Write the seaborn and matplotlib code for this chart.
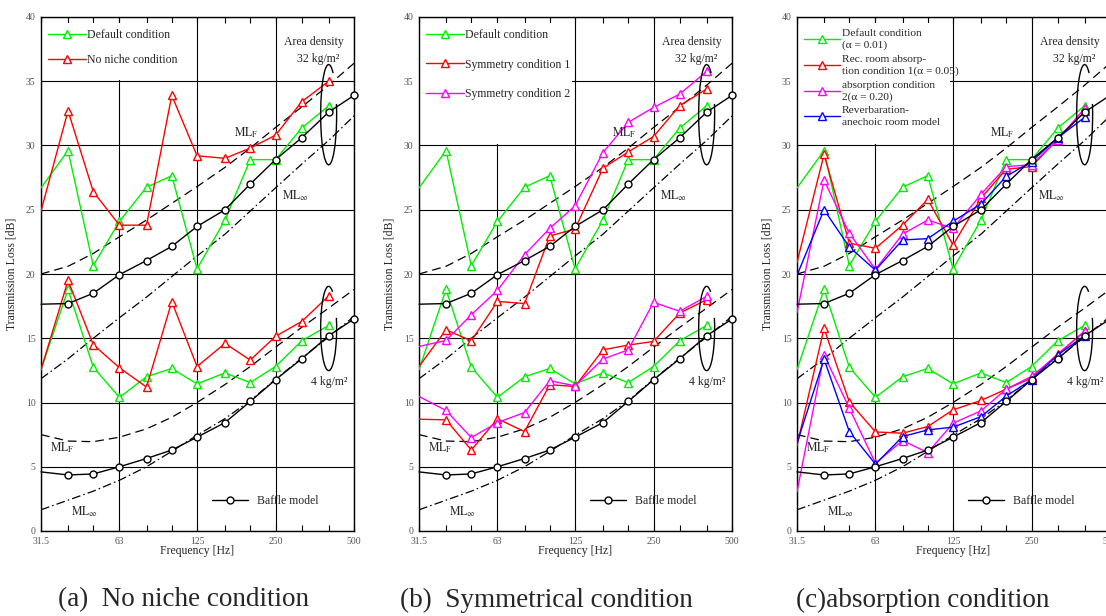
import seaborn as sns
import matplotlib.pyplot as plt
from matplotlib.lines import Line2D
from matplotlib.patches import Arc, Rectangle

# --- Data (1/3 octave bands, dB) ---
freq = [31.5, 40, 50, 63, 80, 100, 125, 160, 200, 250, 315, 400]
freq_full = [31.5, 40, 50, 63, 80, 100, 125, 160, 200, 250, 315, 400, 500]
tick_freq = [31.5, 63, 125, 250, 500]
tick_labels = ["31.5", "63", "125", "250", "500"]
minor_freq = [40, 50, 80, 100, 160, 200, 315, 400]

default_32 = [26.7, 29.6, 20.65, 24.1, 26.75, 27.65, 20.4, 24.2, 28.9, 28.9, 31.35, 33.1]
default_4 = [12.55, 18.8, 12.75, 10.4, 12.0, 12.65, 11.45, 12.3, 11.55, 12.8, 14.8, 16.0]
noniche_32 = [24.9, 32.7, 26.4, 23.8, 23.8, 33.9, 29.2, 29.0, 29.8, 30.8, 33.4, 35.0]
noniche_4 = [12.55, 19.5, 14.5, 12.7, 11.2, 17.85, 12.8, 14.6, 13.3, 15.15, 16.3, 18.3]
sym1_32 = [12.8, 15.66, 14.8, 17.87, 17.7, 22.96, 23.5, 28.23, 29.5, 30.7, 33.1, 34.4]
sym1_4 = [8.7, 8.65, 6.3, 8.73, 7.74, 11.38, 11.25, 14.1, 14.47, 14.75, 16.96, 18.0]
sym2_32 = [14.36, 14.83, 16.83, 18.73, 21.5, 23.56, 25.3, 29.45, 31.8, 32.96, 34.0, 35.77]
sym2_4 = [10.47, 9.38, 7.27, 8.44, 9.22, 11.69, 11.3, 13.38, 14.1, 17.8, 17.1, 18.26]
abs1_32 = [20.9, 29.3, 22.4, 22.0, 23.8, 25.8, 22.26, 25.9, 28.15, 28.36, 30.5, 32.65]
abs1_4 = [6.65, 15.77, 10.05, 7.71, 7.61, 8.13, 9.43, 10.16, 11.04, 11.9, 13.77, 15.53]
abs2_32 = [17.0, 27.3, 23.17, 20.36, 23.1, 24.2, 23.55, 26.2, 28.36, 28.5, 30.45, 32.9]
abs2_4 = [3.06, 13.7, 9.56, 5.27, 7.04, 6.1, 8.39, 9.35, 11.04, 12.03, 13.7, 15.58]
rev_32 = [19.9, 25.0, 22.1, 20.3, 22.65, 22.75, 24.1, 25.45, 27.6, 28.75, 30.6, 32.2]
rev_4 = [6.83, 13.38, 7.74, 5.2, 7.35, 7.87, 8.08, 8.9, 10.5, 11.77, 13.7, 15.2]

baffle_32 = [17.65, 17.7, 18.5, 19.95, 21.05, 22.15, 23.7, 25.0, 27.0, 28.9, 30.6, 32.6, 33.9]
baffle_4 = [4.6, 4.36, 4.44, 5.0, 5.64, 6.3, 7.3, 8.44, 10.08, 11.77, 13.4, 15.2, 16.5]
mlf_32 = [20.0, 20.6, 21.6, 22.9, 24.2, 25.5, 26.8, 28.3, 29.8, 31.4, 33.0, 34.7, 36.4]
mlinf_32 = [11.85, 13.4, 15.0, 16.6, 18.2, 19.8, 21.4, 23.1, 24.9, 26.7, 28.55, 30.4, 32.3]
mlf_4 = [7.5, 7.0, 6.95, 7.3, 7.95, 8.85, 10.0, 11.4, 12.8, 14.3, 15.85, 17.35, 18.8]
mlinf_4 = [1.65, 2.4, 3.1, 3.95, 5.0, 6.2, 7.45, 8.75, 10.15, 11.8, 13.45, 15.1, 16.7]

GREEN, RED, MAGENTA, BLUE = "#00ee00", "#ff0000", "#ff00ff", "#0000ff"

panels = [
    {"series": [("Default condition", GREEN, default_32, default_4),
                ("No niche condition", RED, noniche_32, noniche_4)],
     "caption": "(a)  No niche condition", "cap_x": 184,
     "left": 41, "rect": (0.48, 35.1), "spacing": 1.1, "legsize": 8.5},
    {"series": [("Default condition", GREEN, default_32, default_4),
                ("Symmetry condition 1", RED, sym1_32, sym1_4),
                ("Symmetry condition 2", MAGENTA, sym2_32, sym2_4)],
     "caption": "(b)  Symmetrical condition", "cap_x": 546,
     "left": 419, "rect": (0.49, 30.1), "spacing": 1.45, "legsize": 8.5},
    {"series": [("Default condition\n(\u03b1 = 0.01)", GREEN, default_32, default_4),
                ("Rec. room absorp-\ntion condition 1(\u03b1 = 0.05)", RED, abs1_32, abs1_4),
                ("absorption condition\n2(\u03b1 = 0.20)", MAGENTA, abs2_32, abs2_4),
                ("Reverbaration-\nanechoic room model", BLUE, rev_32, rev_4)],
     "caption": "(c)absorption condition", "cap_x": 923,
     "left": 797, "rect": (0.49, 30.1), "spacing": 0.4, "legsize": 8.2},
]

# ---Set plot style---
sns.set_style("white")
plt.rcParams['font.family'] = ['Liberation Serif', 'DejaVu Serif']
plt.rcParams['mathtext.fontset'] = 'stix'

W, H = 1106, 616
fig = plt.figure(figsize=(W / 100, H / 100), dpi=100)
ax_w, ax_h = 313, 514
ax_bottom = 531

for p in panels:
    ax = fig.add_axes([p["left"] / W, 1 - ax_bottom / H, ax_w / W, ax_h / H])
    ax.set_xscale('log', base=2)

    # theory curves
    for vals, ls in [(mlf_32, (0, (7, 4))), (mlf_4, (0, (7, 4))),
                     (mlinf_32, (0, (7, 2.5, 1.2, 2.5))), (mlinf_4, (0, (7, 2.5, 1.2, 2.5)))]:
        sns.lineplot(x=freq_full, y=vals, ax=ax, color="black", lw=0.9,
                     linestyle=ls, zorder=2)

    # measured / simulated series
    handles = []
    for label, color, v32, v4 in p["series"]:
        for vals in (v32, v4):
            sns.lineplot(x=freq, y=vals, ax=ax, color=color, lw=1, marker='^',
                         markevery=list(range(1, len(freq))), markersize=5.5,
                         markerfacecolor='white', markeredgecolor=color,
                         markeredgewidth=1, zorder=3)
        handles.append(Line2D([], [], color=color, lw=1, marker='^', markersize=5.5,
                              markerfacecolor='white', markeredgecolor=color, label=label))

    for vals in (baffle_32, baffle_4):
        sns.lineplot(x=freq_full, y=vals, ax=ax, color="black", lw=1, marker='o',
                     markevery=list(range(1, len(freq_full))), markersize=5,
                     markerfacecolor='white', markeredgecolor='black',
                     markeredgewidth=1, zorder=4, clip_on=False)

    ax.set_xlim(31.5, 500)
    ax.set_ylim(0, 40)
    ax.set_xticks(tick_freq, tick_labels)
    ax.set_xticks(minor_freq, minor=True)
    ax.xaxis.set_minor_formatter(plt.NullFormatter())
    ax.set_yticks(range(0, 41, 5))
    ax.tick_params(axis='x', which='both', direction='in', top=True, bottom=True,
                   length=4, width=0.8, color='black', labelsize=7, labelcolor='#555555', pad=4)
    ax.tick_params(axis='y', length=0, labelsize=7, labelcolor='#555555', pad=4)
    ax.grid(True, which='major', color='black', lw=0.8)
    for s in ax.spines.values():
        s.set_color('black')
        s.set_linewidth(1)

    # white area behind the legend
    rx, ry = p["rect"]
    ax.add_patch(Rectangle((0, ry / 40), rx, 0.988 - ry / 40, transform=ax.transAxes,
                           facecolor='white', edgecolor='none', zorder=1))

    leg = ax.legend(handles=handles, loc='upper left', bbox_to_anchor=(0.007, 0.985),
                    borderaxespad=0, borderpad=0.4, labelspacing=p["spacing"],
                    handlelength=3.2, handletextpad=0.15, frameon=False,
                    fontsize=p["legsize"])
    for t in leg.get_texts():
        t.set_linespacing(1.35)
    ax.add_artist(leg)
    baffle_handle = Line2D([], [], color='black', lw=1, marker='o', markersize=5,
                           markerfacecolor='white', markeredgecolor='black')
    ax.legend(handles=[baffle_handle], labels=["Baffle model"], loc='center left',
              bbox_to_anchor=(0.545, 0.0575), borderaxespad=0, borderpad=0,
              handlelength=3.1, handletextpad=0.75, frameon=False, fontsize=8.5)

    # annotations
    tr = ax.transAxes
    ax.text(0.873, 0.952, "Area density", transform=tr, ha='center', va='center', fontsize=8.5)
    ax.text(0.884, 0.918, "32 kg/m\u00b2", transform=tr, ha='center', va='center', fontsize=8.5)
    ax.text(0.657, 0.775, r"$\mathrm{ML_F}$", transform=tr, ha='center', va='center', fontsize=8.5)
    ax.text(0.812, 0.653, r"$\mathrm{ML}_{\infty}$", transform=tr, ha='center', va='center', fontsize=8.5)
    ax.text(0.92, 0.289, "4 kg/m\u00b2", transform=tr, ha='center', va='center', fontsize=8.5)
    ax.text(0.069, 0.162, r"$\mathrm{ML_F}$", transform=tr, ha='center', va='center', fontsize=8.5)
    ax.text(0.138, 0.037, r"$\mathrm{ML}_{\infty}$", transform=tr, ha='center', va='center', fontsize=8.5)
    ax.add_patch(Arc((0.919, 0.81), 0.051, 0.195, theta1=80, theta2=400,
                     transform=tr, color='black', lw=1, zorder=5))
    ax.add_patch(Arc((0.919, 0.394), 0.051, 0.164, theta1=80, theta2=400,
                     transform=tr, color='black', lw=1, zorder=5))

    ax.set_xlabel("Frequency [Hz]", fontsize=8.5)
    ax.set_ylabel("Transmission Loss [dB]", fontsize=8.5)
    ax.xaxis.set_label_coords(0.5, -0.028)
    ax.yaxis.set_label_coords(-0.075, 0.5)

    fig.text(p["cap_x"] / W, 1 - 600 / H, p["caption"], ha='center', va='center', fontsize=19.5)

plt.savefig("out.png", dpi=100)
